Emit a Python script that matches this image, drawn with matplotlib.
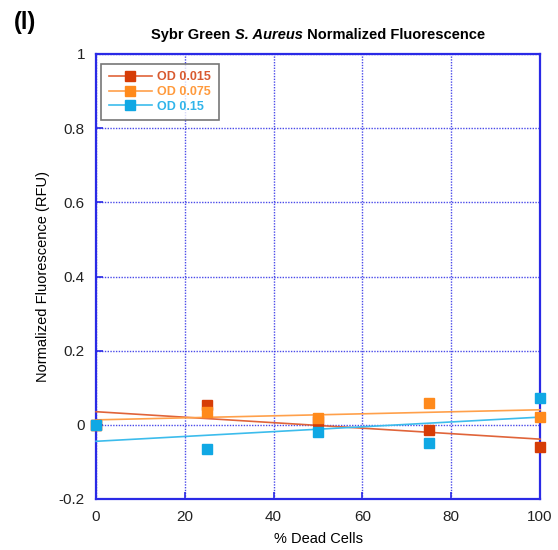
import numpy as np
import matplotlib
matplotlib.use("Agg")
import matplotlib.pyplot as plt

plt.rcParams['font.family'] = ['Liberation Sans', 'DejaVu Sans']

dead_pct = [0, 25, 50, 75, 100]
od_0015 = [0.0, 0.054, 0.010, -0.013, -0.059]
od_0075 = [0.0, 0.035, 0.019, 0.059, 0.022]
od_015 = [0.0, -0.065, -0.019, -0.048, 0.073]
series_labels = ["OD 0.015", "OD 0.075", "OD 0.15"]
x_ticks = [0, 20, 40, 60, 80, 100]
y_ticks = [-0.2, 0, 0.2, 0.4, 0.6, 0.8, 1]
y_tick_labels = ["-0.2", "0", "0.2", "0.4", "0.6", "0.8", "1"]
title_parts = ["Sybr Green ", "S. Aureus", " Normalized Fluorescence"]

marker_colors = ["#d63c06", "#ff8a1c", "#10a8e4"]
line_colors = ["#e0643a", "#ffa04a", "#3cbcec"]
text_colors = ["#d85a30", "#ff9a3c", "#30b4ea"]
grid_blue = "#2a2ae6"

fig = plt.figure(figsize=(5.58, 5.5), dpi=100)
ax = fig.add_axes([96/558, 1 - 499/550, (540-96)/558, (499-54)/550])

x = np.array(dead_pct, dtype=float)
xx = np.array([0, 100], dtype=float)
handles = []
for ys, mc, lc, lab in zip([od_0015, od_0075, od_015], marker_colors, line_colors, series_labels):
    ys = np.array(ys)
    p = np.polyfit(x, ys, 1)
    ax.plot(xx, np.polyval(p, xx), color=lc, lw=1.2, zorder=3, clip_on=False)
    ax.plot(x, ys, ls='none', marker='s', ms=6.5, color=mc, zorder=4, clip_on=False)
    h, = ax.plot([], [], color=lc, lw=1.2, marker='s', ms=6.5, mfc=mc, mec=mc)
    handles.append(h)

ax.set_xlim(0, 100)
ax.set_ylim(-0.2, 1)
ax.set_xticks(x_ticks)
ax.set_yticks(y_ticks)
ax.set_yticklabels(y_tick_labels)
ax.grid(True, color=grid_blue, ls=(0, (1, 1)), lw=1.0, alpha=0.85)
ax.set_axisbelow(True)
for s in ax.spines.values():
    s.set_color(grid_blue)
    s.set_linewidth(1.6)
ax.tick_params(direction='in', color=grid_blue, length=5, width=1.2,
               labelsize=11, labelcolor='#222222', pad=8,
               top=False, right=False)

ax.set_xlabel("% Dead Cells", fontsize=10.5, labelpad=6)
ax.set_ylabel("Normalized Fluorescence (RFU)", fontsize=10.5, labelpad=6)

leg = ax.legend(handles, series_labels, loc='upper left',
                bbox_to_anchor=(5/444, 1 - 10/445), fontsize=9,
                frameon=True, fancybox=False, handlelength=3.5,
                borderpad=0.6, labelspacing=0.2, handletextpad=0.4,
                borderaxespad=0)
leg.get_frame().set_edgecolor('#555555')
leg.get_frame().set_linewidth(1.2)
for t, c in zip(leg.get_texts(), text_colors):
    t.set_color(c)
    t.set_fontweight('bold')

# Title assembled from parts (middle part italic)
renderer = fig.canvas.get_renderer()
styles = ['normal', 'italic', 'normal']
texts = []
for part, st in zip(title_parts, styles):
    t = fig.text(0, 1 - 35/550, part, ha='left', va='center', fontsize=10.5,
                 fontweight='bold', fontstyle=st)
    texts.append(t)
widths = [t.get_window_extent(renderer).width for t in texts]
total = sum(widths)
start = 318 - total / 2
for t, w in zip(texts, widths):
    t.set_x(start / 558)
    start += w

fig.text(14/558, 1 - 22/550, "(l)", ha='left', va='center',
         fontsize=17, fontweight='bold')

fig.savefig("out.png", dpi=100)
